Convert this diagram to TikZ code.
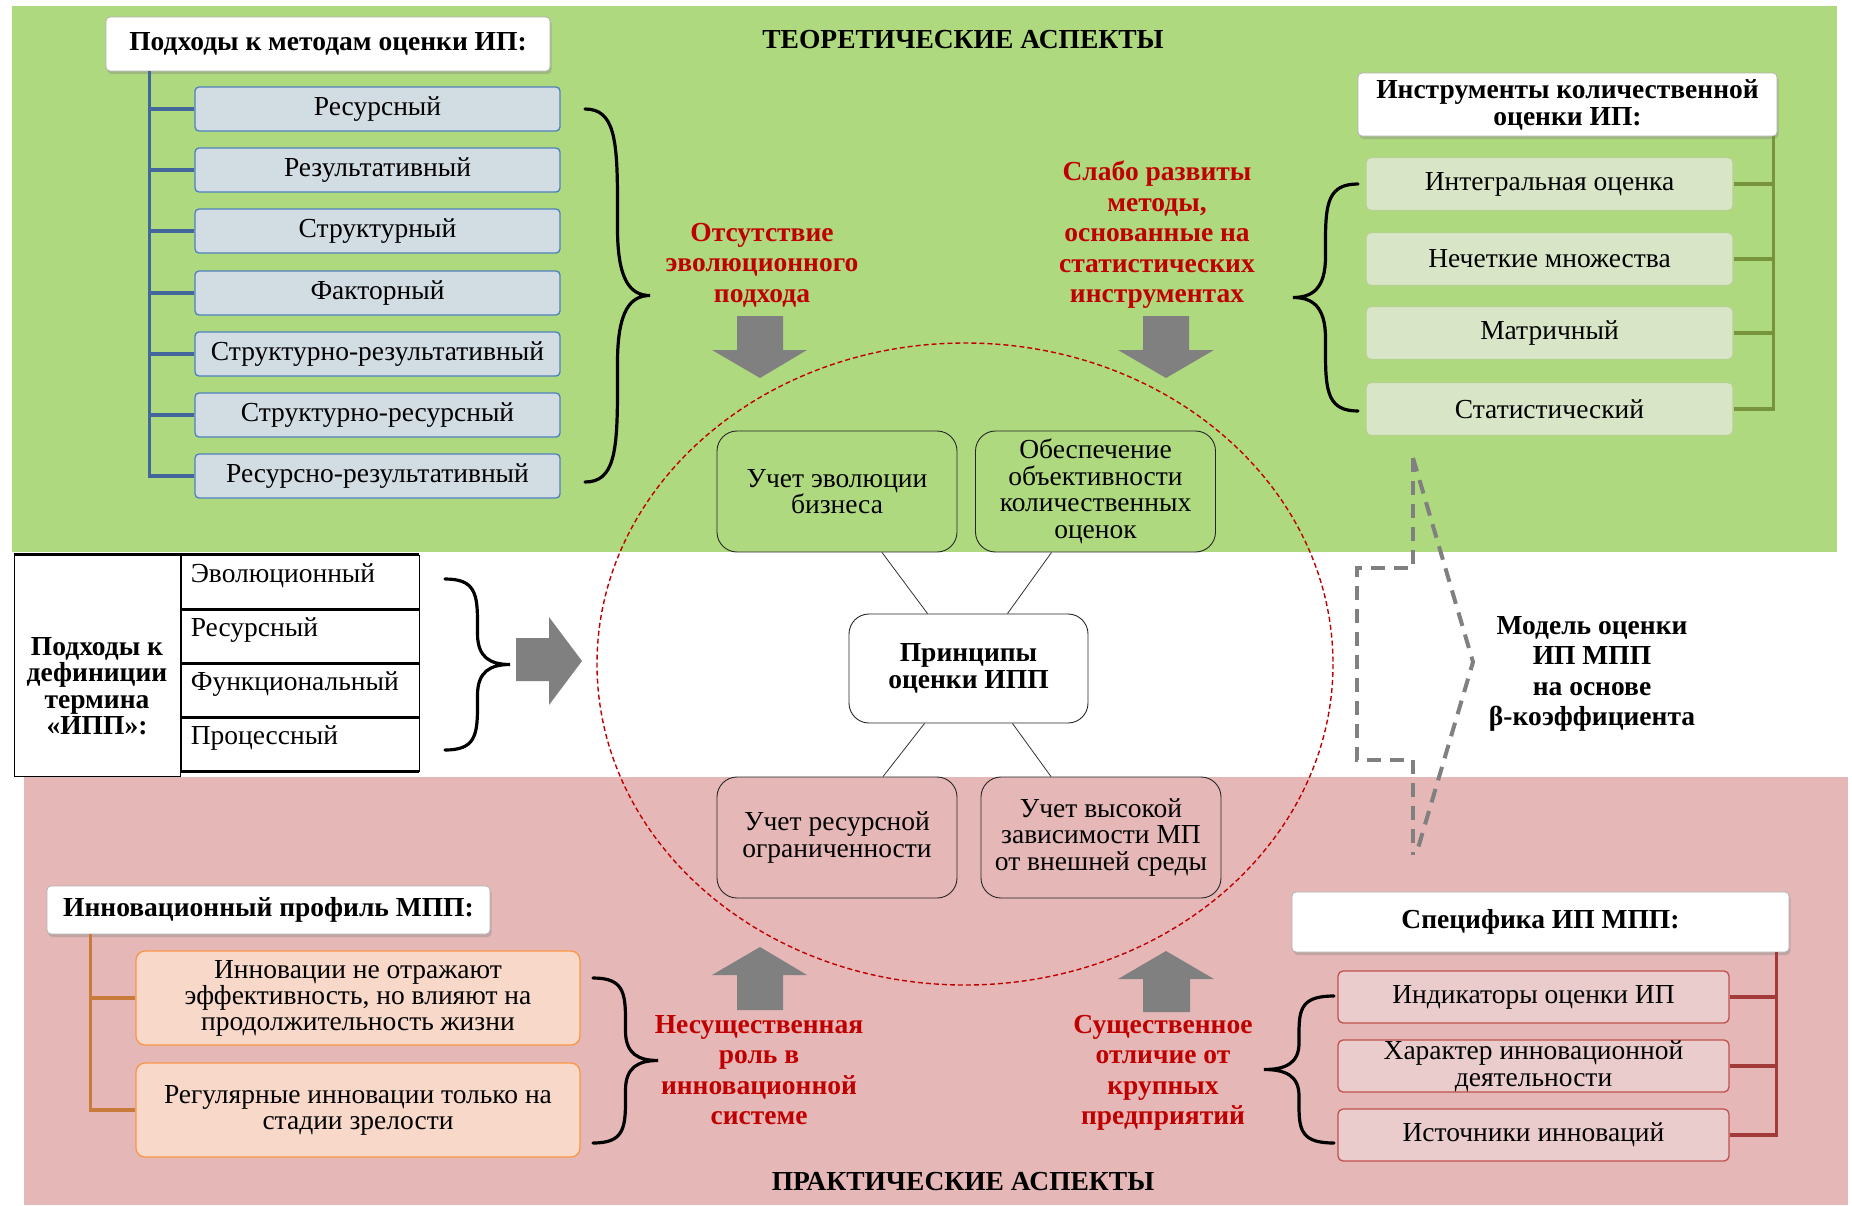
\documentclass[tikz,border=0pt]{standalone}
\usepackage{fontspec}
\setmainfont{Liberation Serif}
\usetikzlibrary{shadows,calc}
\definecolor{greenbg}{HTML}{AFD97E}
\definecolor{pinkbg}{HTML}{E5B7B7}
\definecolor{bluefill}{HTML}{D1DCE3}
\definecolor{bluebd}{HTML}{4F81BD}
\definecolor{blueline}{HTML}{43679C}
\definecolor{grfill}{HTML}{D8E5C6}
\definecolor{grbd}{HTML}{B6D290}
\definecolor{grline}{HTML}{77933C}
\definecolor{orfill}{HTML}{F8D8C9}
\definecolor{orbd}{HTML}{F79646}
\definecolor{orline}{HTML}{C87B3C}
\definecolor{rdfill}{HTML}{EBCCCC}
\definecolor{rdbd}{HTML}{C0504D}
\definecolor{rdline}{HTML}{A33A3A}
\definecolor{redtxt}{HTML}{C00000}
\definecolor{arrgray}{HTML}{808080}
\newcommand\fsz[2]{\fontsize{#1}{#2}\selectfont}
\newcommand\bracedraw[4]{%
\pgfmathsetmacro\bA{#1}\pgfmathsetmacro\bB{#2}\pgfmathsetmacro\bT{#3}\pgfmathsetmacro\bU{#4}%
\pgfmathsetmacro\bM{(\bT+\bU)/2}\pgfmathsetmacro\bX{(\bA+\bB)/2}\pgfmathsetmacro\bH{\bU-\bT}\pgfmathsetmacro\bW{\bB-\bA}%
\draw[brc] (\bA,\bT) .. controls ({\bA+0.45*\bW},\bT) and (\bX,{\bT+0.08*\bH}) .. (\bX,{\bT+0.25*\bH})
 -- (\bX,{\bM-0.18*\bH}) .. controls (\bX,{\bM-0.04*\bH}) and ({\bX+0.2*\bW},\bM) .. (\bB,\bM)
 .. controls ({\bX+0.2*\bW},\bM) and (\bX,{\bM+0.04*\bH}) .. (\bX,{\bM+0.18*\bH})
 -- (\bX,{\bU-0.25*\bH}) .. controls (\bX,{\bU-0.08*\bH}) and ({\bA+0.45*\bW},\bU) .. (\bA,\bU);}
\begin{document}
\begin{tikzpicture}[x=1pt,y=-1pt,
  hdr/.style={draw=gray!60, fill=white, rounded corners=4pt, line width=0.8pt,
     drop shadow={opacity=0.35, shadow xshift=1.5pt, shadow yshift=-3pt},
     font=\bfseries\fsz{27.5}{30}, align=center, inner sep=2pt},
  bluebox/.style={draw=bluebd, fill=bluefill, line width=1.3pt, rounded corners=4pt,
     minimum width=365pt, minimum height=44pt, font=\fsz{27.5}{30}, inner sep=0pt},
  grbox/.style={draw=grbd, fill=grfill, line width=1.3pt, rounded corners=5pt,
     minimum width=367pt, minimum height=53pt, font=\fsz{27.5}{30}, inner sep=0pt},
  orbox/.style={draw=orbd, fill=orfill, line width=1.3pt, rounded corners=9pt,
     minimum width=444pt, minimum height=94pt, font=\fsz{27.5}{26}, align=center, inner sep=0pt},
  rdbox/.style={draw=rdbd, fill=rdfill, line width=1.3pt, rounded corners=5pt,
     minimum width=391pt, minimum height=52pt, font=\fsz{27.5}{27}, align=center, inner sep=0pt},
  prbox/.style={draw=black!85, line width=0.9pt, rounded corners=20pt,
     minimum width=240pt, minimum height=121pt, font=\fsz{27.5}{26.5}, align=center, inner sep=0pt},
  tbox/.style={draw=black, line width=0.8pt, fill=white, minimum width=238pt, minimum height=54pt, inner sep=0pt},
  tlbl/.style={anchor=west, font=\fsz{27.5}{30}, inner sep=0pt},
  redlbl/.style={text=redtxt, font=\bfseries\fsz{27.5}{30.5}, align=center},
  blklbl/.style={font=\bfseries\fsz{27.5}{30.5}, align=center},
  brc/.style={line width=3.2pt, line cap=round},
  tree/.style={line width=3.5pt},
  arr/.style={fill=arrgray},
  ell/.style={draw=redtxt, line width=1.4pt, dash pattern=on 5pt off 3pt},
  link/.style={draw=black!80, line width=0.8pt},
  dsh/.style={draw=arrgray, line width=4pt, dash pattern=on 14pt off 9pt}
]
\useasboundingbox (0,0) rectangle (1852,1205);
\fill[white] (0,0) rectangle (1852,1205);
\fill[greenbg] (12,6) rectangle (1837,552);
\fill[pinkbg] (24,777) rectangle (1848,1205);

% section titles
\node[font=\bfseries\fsz{27.5}{30}] (tth) at (963,40) {ТЕОРЕТИЧЕСКИЕ АСПЕКТЫ};
\node[font=\bfseries\fsz{27.5}{30}] (tpr) at (963,1182) {ПРАКТИЧЕСКИЕ АСПЕКТЫ};

% top-left group
\node[hdr, minimum width=444pt, minimum height=54pt] (h1) at (328,44) {Подходы к методам оценки ИП:};
\node[bluebox] (b1) at (377.5,109) {Ресурсный};
\node[bluebox] (b2) at (377.5,170) {Результативный};
\node[bluebox] (b3) at (377.5,231) {Структурный};
\node[bluebox] (b4) at (377.5,293) {Факторный};
\node[bluebox] (b5) at (377.5,354) {Структурно-результативный};
\node[bluebox] (b6) at (377.5,415) {Структурно-ресурсный};
\node[bluebox] (b7) at (377.5,476) {Ресурсно-результативный};
\coordinate (bt) at ($(h1.south west)+(44,0)$);
\draw[tree, blueline] (bt) |- (b7.west);
\foreach \i in {1,...,6} \draw[tree, blueline] (bt |- b\i.west) -- (b\i.west);
\bracedraw{585}{650}{109}{482}

% top-right group
\node[hdr, minimum width=419pt, minimum height=63pt, font=\bfseries\fsz{27.5}{27}] (h3) at (1567.5,104.5) {Инструменты количественной\\оценки ИП:};
\node[grbox] (g1) at (1549.5,184) {Интегральная оценка};
\node[grbox] (g2) at (1549.5,259) {Нечеткие множества};
\node[grbox] (g3) at (1549.5,333) {Матричный};
\node[grbox] (g4) at (1549.5,409) {Статистический};
\coordinate (gt) at ($(h3.south east)+(-4,0)$);
\draw[tree, grline] (gt) |- (g4.east);
\foreach \i in {1,2,3} \draw[tree, grline] (gt |- g\i.east) -- (g\i.east);
\bracedraw{1358}{1293}{184}{411}

% red labels top
\node[redlbl] (r1) at (762,265) {Отсутствие\\эволюционного\\подхода};
\node[redlbl] (r2) at (1157,235) {Слабо развиты\\методы,\\основанные на\\статистических\\инструментах};
\fill[arr] (737,316) -- (783,316) -- (783,350) -- (807,350) -- (760,378) -- (712,350) -- (737,350) -- cycle;
\fill[arr] (1143,316) -- (1189,316) -- (1189,350) -- (1214,350) -- (1166,378) -- (1118,350) -- (1143,350) -- cycle;

% ellipse
\draw[ell] (965,664) ellipse [x radius=368, y radius=321];

% principles
\node[prbox] (p1) at (837,491.5) {Учет эволюции\\бизнеса};
\node[prbox] (p2) at (1095.5,491.5) {Обеспечение\\объективности\\количественных\\оценок};
\node[prbox, fill=white, minimum width=239pt, minimum height=109pt, font=\bfseries\fsz{27.5}{27}] (pc) at (968.5,668.5) {Принципы\\оценки ИПП};
\node[prbox] (p3) at (837,837.5) {Учет ресурсной\\ограниченности};
\node[prbox] (p4) at (1101,837.5) {Учет высокой\\зависимости МП\\от внешней среды};
\draw[link] ($(p1.south)+(45,0)$) -- ($(pc.north)+(-41,0)$);
\draw[link] ($(p2.south)+(-44,0)$) -- ($(pc.north)+(39,0)$);
\draw[link] ($(pc.south)+(-44,0)$) -- ($(p3.north)+(46,0)$);
\draw[link] ($(pc.south)+(44,0)$) -- ($(p4.north)+(-50,0)$);

% left table
\node[draw=black, line width=0.8pt, fill=white, minimum width=166pt, minimum height=221pt, inner sep=0pt] (dd) at (97,665.5) {};
\node[font=\bfseries\fsz{27.5}{26.4}, align=center] (ddt) at (97,686) {Подходы к\\дефиниции\\термина\\«ИПП»:};
\node[tbox] (d1) at (300,582) {};
\node[tbox] (d2) at (300,636) {};
\node[tbox] (d3) at (300,690) {};
\node[tbox] (d4) at (300,744) {};
\draw[line width=3pt] (dd.north west) -- (d1.north east);
\foreach \i in {1,...,4} \draw[line width=3pt] (d\i.south west) -- (d\i.south east);
\node[tlbl] (d1t) at ($(d1.west)+(10,-6)$) {Эволюционный};
\node[tlbl] (d2t) at ($(d2.west)+(10,-6)$) {Ресурсный};
\node[tlbl] (d3t) at ($(d3.west)+(10,-6)$) {Функциональный};
\node[tlbl] (d4t) at ($(d4.west)+(10,-6)$) {Процессный};
\bracedraw{445}{510}{579}{750}
\fill[arr] (516,638) -- (549,638) -- (549,617) -- (582,661) -- (549,705) -- (549,681) -- (516,681) -- cycle;

% dashed block arrow and model label
\draw[dsh] (1413,458) -- (1413,568) -- (1357,568) -- (1357,760) -- (1413,760) -- (1413,855);
\draw[dsh] (1413,458) -- (1473,662) -- (1416,855);
\node[blklbl] (mdl) at (1592,674) {Модель оценки\\ИП МПП\\на основе\\β-коэффициента};

% bottom-left group
\node[hdr, minimum width=443pt, minimum height=48pt] (h4) at (268.5,910) {Инновационный профиль МПП:};
\node[orbox] (o1) at (358,998) {Инновации не отражают\\эффективность, но влияют на\\продолжительность жизни};
\node[orbox] (o2) at (358,1110) {Регулярные инновации только на\\стадии зрелости};
\coordinate (ot) at ($(h4.south west)+(44,0)$);
\draw[tree, orline] (ot) |- (o2.west);
\draw[tree, orline] (ot |- o1.west) -- (o1.west);
\bracedraw{593}{658}{978}{1143}
\node[redlbl] (r3) at (759,1070) {Несущественная\\роль в\\инновационной\\системе};
\fill[arr] (737,1010) -- (783,1010) -- (783,975) -- (807,975) -- (760,947) -- (712,975) -- (737,975) -- cycle;

% bottom-right group
\node[hdr, minimum width=497pt, minimum height=60pt] (h5) at (1540.5,922) {Специфика ИП МПП:};
\node[rdbox] (s1) at (1533.5,997) {Индикаторы оценки ИП};
\node[rdbox] (s2) at (1533.5,1066) {Характер инновационной\\деятельности};
\node[rdbox] (s3) at (1533.5,1135) {Источники инноваций};
\coordinate (st) at ($(h5.south east)+(-13,0)$);
\draw[tree, rdline] (st) |- (s3.east);
\foreach \i in {1,2} \draw[tree, rdline] (st |- s\i.east) -- (s\i.east);
\bracedraw{1334}{1264}{996}{1143}
\node[redlbl] (r4) at (1163,1073) {Существенное\\отличие от\\крупных\\предприятий};
\fill[arr] (1143,1012) -- (1190,1012) -- (1190,979) -- (1214,979) -- (1166,951) -- (1118,979) -- (1143,979) -- cycle;
\end{tikzpicture}
\end{document}
